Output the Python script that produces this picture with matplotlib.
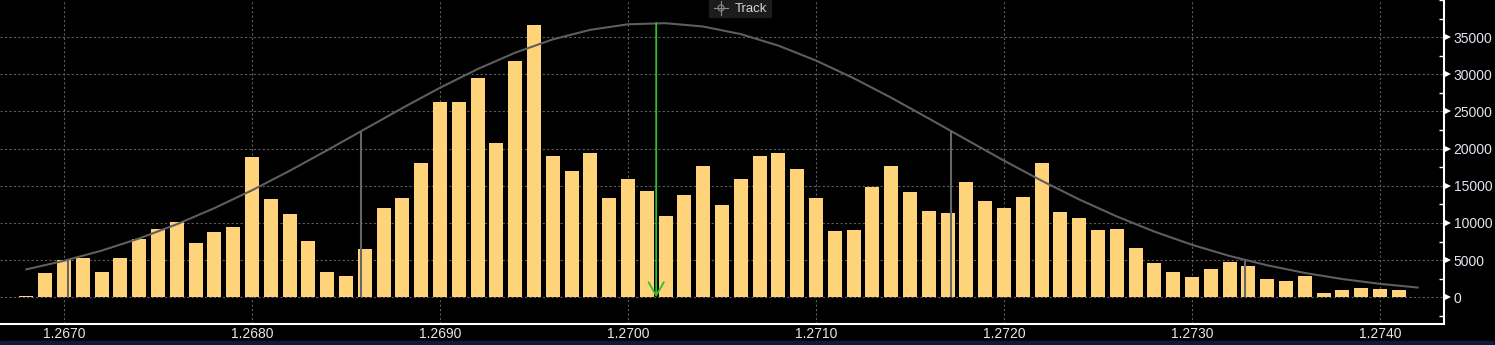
import numpy as np
import matplotlib.pyplot as plt
from matplotlib.lines import Line2D
from matplotlib.patches import Rectangle, Circle
from matplotlib.transforms import IdentityTransform, ScaledTranslation, blended_transform_factory

plt.rcParams['font.family'] = ['Liberation Sans', 'DejaVu Sans']

# price levels (bins) and volume at each level
prices = [1.2668, 1.2669,
          1.2670, 1.2671, 1.2672, 1.2673, 1.2674, 1.2675, 1.2676, 1.2677, 1.2678, 1.2679,
          1.2680, 1.2681, 1.2682, 1.2683, 1.2684, 1.2685, 1.2686, 1.2687, 1.2688, 1.2689,
          1.2690, 1.2691, 1.2692, 1.2693, 1.2694, 1.2695, 1.2696, 1.2697, 1.2698, 1.2699,
          1.2700, 1.2701, 1.2702, 1.2703, 1.2704, 1.2705, 1.2706, 1.2707, 1.2708, 1.2709,
          1.2710, 1.2711, 1.2712, 1.2713, 1.2714, 1.2715, 1.2716, 1.2717, 1.2718, 1.2719,
          1.2720, 1.2721, 1.2722, 1.2723, 1.2724, 1.2725, 1.2726, 1.2727, 1.2728, 1.2729,
          1.2730, 1.2731, 1.2732, 1.2733, 1.2734, 1.2735, 1.2736, 1.2737, 1.2738, 1.2739,
          1.2740, 1.2741, 1.2742]
volumes = [200, 3200,
           5000, 5300, 3400, 5300, 7850, 9150, 10100, 7300, 8750, 9400,
           18850, 13200, 11200, 7550, 3400, 2800, 6450, 11950, 13400, 18100,
           26300, 26300, 29550, 20800, 31850, 36700, 18950, 17050, 19450, 13400,
           15850, 14350, 11000, 13700, 17600, 12350, 15950, 19050, 19450, 17200,
           13300, 8850, 9000, 14900, 17700, 14100, 11650, 11400, 15550, 13000,
           11950, 13450, 18050, 11500, 10700, 9050, 9200, 6650, 4600, 3400,
           2750, 3800, 4750, 4200, 2450, 2200, 2850, 600, 1000, 1250,
           1100, 1000, 100]

# fitted distribution curve
curve_x = [1.2668, 1.2670, 1.2672, 1.2674, 1.2676, 1.2678, 1.2680, 1.2682, 1.2684, 1.2686,
           1.2688, 1.2690, 1.2692, 1.2694, 1.2696, 1.2698, 1.2700, 1.2702, 1.2704, 1.2706,
           1.2708, 1.2710, 1.2712, 1.2714, 1.2716, 1.2718, 1.2720, 1.2722, 1.2724, 1.2726,
           1.2728, 1.2730, 1.2732, 1.2734, 1.2736, 1.2738, 1.2740, 1.2742]
curve_y = [3750, 4900, 6270, 7910, 9820, 11990, 14390, 17010, 19780, 22620,
           25460, 28190, 30700, 32910, 34700, 35990, 36730, 36880, 36430, 35410,
           33860, 31850, 29480, 26850, 24050, 21200, 18380, 15680, 13160, 10870,
           8830, 7060, 5550, 4300, 3270, 2450, 1800, 1310]

# standard deviation markers and mean
sigma_x = [1.26702, 1.26858, 1.27172, 1.27328]
sigma_top = [4990, 22380, 22380, 4990]
mean_price = 1.27015
mean_top = 36900

xticks = [1.2670, 1.2680, 1.2690, 1.2700, 1.2710, 1.2720, 1.2730, 1.2740]
yticks = [0, 5000, 10000, 15000, 20000, 25000, 30000, 35000]
yminor = [-2500, 2500, 7500, 12500, 17500, 22500, 27500, 32500, 37500, 40000]

W, H = 1495, 345
fig = plt.figure(figsize=(W / 100, H / 100), dpi=100, facecolor='black')
ax = fig.add_axes([0, 21 / H, 1444 / W, 324 / H])
ax.set_facecolor('black')

ax.bar(prices, volumes, width=0.0000743, color='#ffd37a', zorder=3)
ax.plot(curve_x, curve_y, color='#5e5e5e', lw=1.5, zorder=4)
ax.vlines(sigma_x, 0, sigma_top, color='#666666', lw=1.5, zorder=4)
ax.annotate('', xy=(mean_price, 0), xytext=(mean_price, mean_top),
            arrowprops=dict(arrowstyle='->,head_length=0.95,head_width=0.55',
                            color='#2fc02f', lw=1.3, shrinkA=0, shrinkB=0),
            zorder=5)

ax.set_xlim(1.26666, 1.27434)
ax.set_ylim(-3600, 40000)

ax.set_xticks(xticks)
ax.set_xticklabels(['%.4f' % t for t in xticks])
ax.set_yticks(yticks)
ax.set_yticks(yminor, minor=True)
ax.yaxis.tick_right()
ax.tick_params(axis='x', length=0, pad=2.5, labelsize=10, labelcolor='#e4e6ee')
ax.tick_params(axis='y', which='major', length=0, pad=7, labelsize=10, labelcolor='#e4e6ee')
ax.tick_params(axis='y', which='minor', direction='in', length=3.5, width=1, color='white')

ax.grid(True, which='major', color='#5c5c5c', ls=(0, (2, 2)), lw=0.8)
ax.set_axisbelow(True)

for s in ['left', 'top']:
    ax.spines[s].set_visible(False)
for s in ['right', 'bottom']:
    ax.spines[s].set_color('white')
    ax.spines[s].set_linewidth(1.5)

# triangle tick markers on the right axis
tr = blended_transform_factory(ax.transAxes, ax.transData) + ScaledTranslation(3.5 / 100, 0, fig.dpi_scale_trans)
ax.plot([1.0] * len(yticks), yticks, transform=tr, marker='>', ls='none', ms=5,
        color='white', mew=0, clip_on=False)

# "Track" button
pix = IdentityTransform()
fig.add_artist(Rectangle((709, H - 17), 62, 17, transform=pix, color='#1c1c1c'))
fig.add_artist(Circle((721, H - 8), 3, transform=pix, fill=False, ec='#8a8a8a', lw=0.8))
fig.add_artist(Line2D([714, 728], [H - 8, H - 8], transform=pix, color='#8a8a8a', lw=0.8))
fig.add_artist(Line2D([721, 721], [H - 15, H - 1], transform=pix, color='#8a8a8a', lw=0.8))
fig.text(735 / W, (H - 8.5) / H, 'Track', color='#d6d6d6', fontsize=9.5, va='center', ha='left')

# dark strip at the bottom
fig.add_artist(Rectangle((0, 0), 1493, 4, transform=pix, color='#0b1c3a'))

fig.savefig('out.png', dpi=100, facecolor='black')
